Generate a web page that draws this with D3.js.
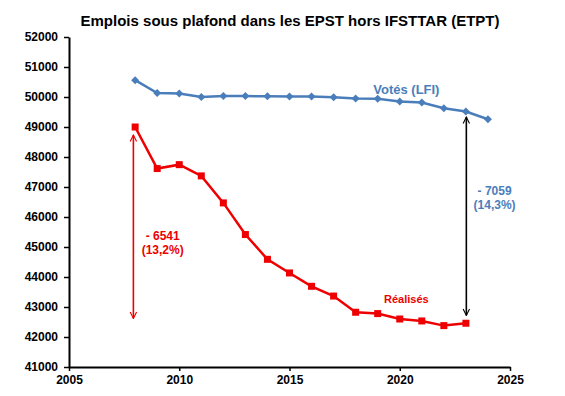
<!DOCTYPE html>
<html>
<head>
<meta charset="utf-8">
<script src="https://cdn.jsdelivr.net/npm/d3@7"></script>
<style>
  body { margin: 0; background: #fff; }
  text { font-family: "Liberation Sans", Arial, sans-serif; }
</style>
</head>
<body>
<div id="chart"></div>
<script>
// data
const years = [2008, 2009, 2010, 2011, 2012, 2013, 2014, 2015, 2016, 2017, 2018, 2019, 2020, 2021, 2022, 2023, 2024];
const votes = [50560, 50130, 50115, 50000, 50035, 50030, 50025, 50015, 50015, 49990, 49950, 49945, 49850, 49815, 49625, 49518, 49260];
const realYears = years.slice(0, 16);
const realises = [49000, 47615, 47745, 47370, 46470, 45415, 44590, 44135, 43690, 43365, 42825, 42780, 42600, 42535, 42380, 42459];
const yTicks = d3.range(41000, 52001, 1000);
const xTicks = [2005, 2010, 2015, 2020, 2025];

const width = 565, height = 396;
const blue = "#4a7ebb", red = "#ee0000";

const svg = d3.select("#chart").append("svg")
    .attr("width", width)
    .attr("height", height);

const x = d3.scaleLinear().domain([2005, 2025]).range([69, 510]);
const y = d3.scaleLinear().domain([41000, 52000]).range([367, 37]);

// arrow heads
const defs = svg.append("defs");
function arrowMarker(id, color) {
    defs.append("marker")
        .attr("id", id)
        .attr("viewBox", "0 0 10 10")
        .attr("refX", 9).attr("refY", 5)
        .attr("markerWidth", 8).attr("markerHeight", 8)
        .attr("markerUnits", "userSpaceOnUse")
        .attr("orient", "auto-start-reverse")
      .append("path")
        .attr("d", "M1,1 L9,5 L1,9")
        .attr("fill", "none")
        .attr("stroke", color)
        .attr("stroke-width", 1.4);
}
arrowMarker("arrRed", red);
arrowMarker("arrBlack", "#000");

// title
svg.append("text")
    .attr("x", 290).attr("y", 26)
    .attr("text-anchor", "middle")
    .attr("font-size", 15).attr("font-weight", "bold")
    .text("Emplois sous plafond dans les EPST hors IFSTTAR (ETPT)");

// axes
const yAxis = svg.append("g")
    .attr("transform", "translate(" + x(2005) + ",0)")
    .call(d3.axisLeft(y).tickValues(yTicks).tickFormat(d3.format("d")).tickSize(5).tickSizeOuter(0));
const xAxis = svg.append("g")
    .attr("transform", "translate(0," + y(41000) + ")")
    .call(d3.axisBottom(x).tickValues(xTicks).tickFormat(d3.format("d")).tickSize(4).tickSizeOuter(0));
[yAxis, xAxis].forEach(g => {
    g.select(".domain").attr("stroke", "#000").attr("stroke-width", 2);
    g.selectAll(".tick line").attr("stroke", "#000").attr("stroke-width", 1.5);
    g.selectAll(".tick text")
        .attr("font-family", "'Liberation Sans', Arial, sans-serif")
        .attr("font-size", 12).attr("font-weight", "bold").attr("fill", "#000");
});
yAxis.selectAll(".tick text").attr("x", -11);
xAxis.selectAll(".tick text").attr("y", 8);

// arrows
svg.append("line")
    .attr("x1", x(2007.92)).attr("x2", x(2007.92))
    .attr("y1", y(42620)).attr("y2", y(48730))
    .attr("stroke", red).attr("stroke-width", 1.6)
    .attr("marker-start", "url(#arrRed)").attr("marker-end", "url(#arrRed)");
svg.append("line")
    .attr("x1", x(2023.02)).attr("x2", x(2023.02))
    .attr("y1", y(49330)).attr("y2", y(42720))
    .attr("stroke", "#000").attr("stroke-width", 1.6)
    .attr("marker-start", "url(#arrBlack)").attr("marker-end", "url(#arrBlack)");

// lines
const line = d3.line().x(d => x(d[0])).y(d => y(d[1]));
const votesPts = years.map((yr, i) => [yr, votes[i]]);
const realPts = realYears.map((yr, i) => [yr, realises[i]]);

svg.append("path")
    .datum(votesPts)
    .attr("d", line)
    .attr("fill", "none").attr("stroke", blue).attr("stroke-width", 2.5);
svg.append("g").selectAll("path")
    .data(votesPts).join("path")
    .attr("transform", d => "translate(" + x(d[0]) + "," + y(d[1]) + ")")
    .attr("d", "M0,-4 L4,0 L0,4 L-4,0Z")
    .attr("fill", blue);

svg.append("path")
    .datum(realPts)
    .attr("d", line)
    .attr("fill", "none").attr("stroke", red).attr("stroke-width", 2.5);
svg.append("g").selectAll("rect")
    .data(realPts).join("rect")
    .attr("x", d => x(d[0]) - 3.5).attr("y", d => y(d[1]) - 3.5)
    .attr("width", 7).attr("height", 7)
    .attr("fill", red);

// labels
svg.append("text")
    .attr("x", x(2020.3)).attr("y", y(50110))
    .attr("text-anchor", "middle")
    .attr("font-size", 13).attr("font-weight", "bold").attr("fill", blue)
    .text("Votés (LFI)");
svg.append("text")
    .attr("x", x(2020.3)).attr("y", y(43130))
    .attr("text-anchor", "middle")
    .attr("font-size", 11).attr("font-weight", "bold").attr("fill", red)
    .text("Réalisés");

const redNote = svg.append("text")
    .attr("text-anchor", "middle")
    .attr("font-size", 12).attr("font-weight", "bold").attr("fill", red);
redNote.append("tspan").attr("x", x(2009.25)).attr("y", y(45230)).text("- 6541");
redNote.append("tspan").attr("x", x(2009.25)).attr("y", y(44770)).text("(13,2%)");

const blueNote = svg.append("text")
    .attr("text-anchor", "middle")
    .attr("font-size", 12).attr("font-weight", "bold").attr("fill", blue);
blueNote.append("tspan").attr("x", x(2024.3)).attr("y", y(46740)).text("- 7059");
blueNote.append("tspan").attr("x", x(2024.3)).attr("y", y(46280)).text("(14,3%)");
</script>
</body>
</html>
